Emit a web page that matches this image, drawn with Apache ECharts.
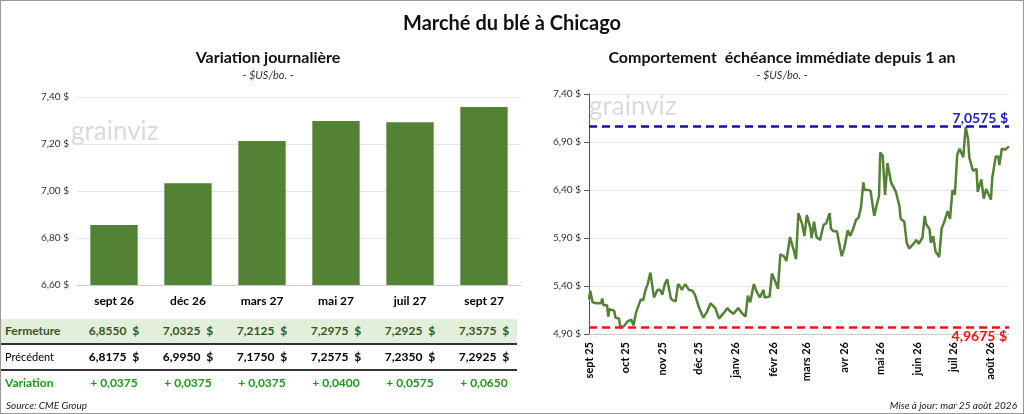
<!DOCTYPE html>
<html>
<head>
<meta charset="utf-8">
<script src="https://cdn.jsdelivr.net/npm/echarts@6/dist/echarts.min.js"></script>
<style>
body{margin:0;background:#fff;font-family:Lato,sans-serif;}
#wrap{position:relative;width:1022px;height:412px;border:1px solid #999;}
#main{position:absolute;left:0;top:0;width:1022px;height:412px;}
#tbl{position:absolute;left:0;top:318px;width:516px;font-size:12px;}
.row{position:relative;height:24px;line-height:24px;}
.row span{position:absolute;font-weight:bold;}
.row .lab{left:4px;}
.foot{position:absolute;bottom:2px;font-style:italic;font-size:10px;color:#222;}
</style>
</head>
<body>
<div id="wrap">
<div id="main"></div>
<div id="tbl"></div>
<div class="foot" style="left:5px">Source: CME Group</div>
<div class="foot" style="right:6px">Mise à jour: mar 25 août 2026</div>
</div>
<script>
let contracts=["sept 26","déc 26","mars 27","mai 27","juil 27","sept 27"];
let closes=[6.8550,7.0325,7.2125,7.2975,7.2925,7.3575];
let previous=[6.8175,6.9950,7.1750,7.2575,7.2350,7.2925];
let monthStarts=[0,30,61,91,122,153,181,212,242,273,303,334];
let monthNames=["sept 25","oct 25","nov 25","déc 25","janv 26","févr 26","mars 26","avr 26","mai 26","juin 26","juil 26","août 26"];
let days=[0,1,3,6,10,11,12,15,16,17,21,22,25,26,29,32,35,37,39,41,43,45,47,49,51,54,57,59,61,63,65,68,70,72,74,76,77,80,83,86,88,91,95,98,101,105,108,112,115,117,120,124,127,130,132,134,137,139,142,145,146,150,152,155,157,159,162,164,167,170,172,174,177,179,181,184,185,187,189,192,195,197,200,201,203,206,210,212,215,217,219,222,224,226,228,229,232,234,237,239,241,242,244,246,248,251,255,258,259,262,264,266,269,272,274,277,279,280,283,284,286,288,291,293,295,298,300,302,304,306,308,311,313,315,316,319,322,323,326,328,330,334,335,338,340,341,343,346,349];
let prices=[5.26,5.35,5.23,5.22,5.22,5.27,5.20,5.20,5.08,5.16,5.14,5.07,5.06,4.97,4.98,5.03,5.05,4.99,5.12,5.19,5.26,5.25,5.36,5.43,5.54,5.28,5.36,5.36,5.31,5.42,5.47,5.27,5.25,5.24,5.42,5.39,5.36,5.42,5.36,5.35,5.31,5.19,5.07,5.13,5.22,5.17,5.06,5.12,5.17,5.14,5.11,5.17,5.12,5.08,5.30,5.23,5.42,5.35,5.28,5.36,5.28,5.29,5.53,5.44,5.37,5.73,5.71,5.66,5.91,5.78,5.68,6.16,6.05,5.92,6.14,6.00,5.90,6.07,5.91,5.88,6.04,6.05,6.16,6.00,5.97,5.97,5.71,5.79,5.98,5.92,5.98,6.09,6.11,6.22,6.48,6.40,6.40,6.39,6.13,6.24,6.34,6.79,6.76,6.35,6.68,6.48,6.38,6.23,6.10,6.07,5.85,5.79,5.83,5.88,5.84,5.90,6.13,6.05,5.99,5.85,5.92,5.76,5.70,6.00,6.06,6.18,6.10,6.40,6.35,6.77,6.83,6.74,7.0575,6.93,6.74,6.60,6.62,6.38,6.51,6.31,6.41,6.30,6.52,6.75,6.75,6.66,6.83,6.82,6.855];
let yearHigh=7.0575, yearLow=4.9675;

const green="#548235";
const fr=(v,d)=>v.toFixed(d).replace(".",",");

// table
let cx=[113,187,261,335,409,483];
function row(label,vals,style,bg){
	let h=`<div class="row" style="${bg}">`;
	h+=`<span class="lab" style="${style}">${label}</span>`;
	vals.forEach((v,i)=>{h+=`<span style="left:${cx[i]-32}px;width:64px;text-align:center;${style}">${v}</span>`;});
	return h+"</div>";
}
let t="";
t+=row("Fermeture",closes.map(v=>fr(v,4)+"&nbsp;&nbsp;$"),"color:#375623;","background:#E2EFDA;border-bottom:2px solid #333;");
t+=row("Précédent",previous.map(v=>fr(v,4)+"&nbsp;&nbsp;$"),"color:#000;","border-bottom:2px solid #333;");
t+=row("Variation",closes.map((v,i)=>"+ "+fr(v-previous[i],4)),"color:#1a9a1a;","");
document.getElementById("tbl").innerHTML=t;
document.querySelectorAll(".row .lab")[1].style.fontWeight="normal";
document.querySelectorAll(".row .lab")[1].style.fontSize="11px";

let chart=echarts.init(document.getElementById("main"));
let series=[];
chart.setOption({
	animation:false,
	textStyle:{fontFamily:"Lato"},
	title:[
		{text:"Marché du blé à Chicago",left:"center",top:8,textStyle:{fontSize:20,fontWeight:"bold",color:"#111"}},
		{text:"Variation journalière",subtext:"- $US/bo. -",left:262,textAlign:"center",top:44,itemGap:4,
			textStyle:{fontSize:16,fontWeight:"bold",color:"#111"},subtextStyle:{fontSize:11,fontStyle:"italic",color:"#333"}},
		{text:"Comportement  échéance immédiate depuis 1 an",subtext:"- $US/bo. -",left:776,textAlign:"center",top:44,itemGap:4,
			textStyle:{fontSize:16,fontWeight:"bold",color:"#111"},subtextStyle:{fontSize:11,fontStyle:"italic",color:"#333"}}
	],
	graphic:[
		{type:"text",left:70,top:118,style:{text:"grainviz",fontSize:26,fill:"rgba(150,150,150,0.35)",fontFamily:"Lato"}},
		{type:"text",left:588,top:93,style:{text:"grainviz",fontSize:26,fill:"rgba(150,150,150,0.35)",fontFamily:"Lato"}}
	],
	grid:[
		{left:76,right:1024-522,top:96,bottom:414-286},
		{left:588,right:14,top:93,bottom:414-335}
	],
	xAxis:[
		{gridIndex:0,type:"category",data:contracts,axisTick:{show:false},axisLine:{lineStyle:{color:"#ccc"}},
			axisLabel:{fontWeight:"bold",fontSize:12,color:"#000",margin:10}},
		{gridIndex:1,type:"value",min:0,max:349,splitLine:{show:false},axisLine:{show:true,lineStyle:{color:"#ccc"}},
			axisTick:{show:false},
			axisLabel:{customValues:monthStarts,rotate:90,fontWeight:"bold",fontSize:11,color:"#000",
				formatter:v=>monthNames[monthStarts.indexOf(v)]}}
	],
	yAxis:[
		{gridIndex:0,type:"value",min:6.6,max:7.4,interval:0.2,splitLine:{lineStyle:{color:"#e6e6e6"}},
			axisLabel:{fontSize:10,color:"#333",formatter:v=>fr(v,2)+" $"}},
		{gridIndex:1,type:"value",min:4.9,max:7.4,interval:0.5,splitLine:{lineStyle:{color:"#e6e6e6"}},
			axisLabel:{fontSize:10,color:"#333",formatter:v=>fr(v,2)+" $"}}
	],
	series:[
		{type:"bar",xAxisIndex:0,yAxisIndex:0,data:closes,barWidth:"64%",itemStyle:{color:green}},
		{type:"line",xAxisIndex:1,yAxisIndex:1,data:days.map((d,i)=>[d,prices[i]]),showSymbol:false,
			lineStyle:{color:green,width:2.5},
			markLine:{symbol:"none",silent:true,
				data:[
					{yAxis:yearHigh,lineStyle:{color:"#1010b0",type:[8,5],width:2.5},
						label:{position:"insideEndTop",formatter:fr(yearHigh,4)+" $",color:"#2020c0",fontSize:14,fontWeight:"bold",distance:1}},
					{yAxis:yearLow,lineStyle:{color:"#ff1010",type:[8,5],width:2.5},
						label:{position:"insideEndBottom",formatter:fr(yearLow,4)+" $",color:"#ff1010",fontSize:14,fontWeight:"bold",distance:2}}
				]},
			markPoint:{symbol:"none",data:[{coord:[349,prices[prices.length-1]],
				label:{show:true,formatter:fr(prices[prices.length-1],4)+" $",color:"#000",fontSize:14,fontWeight:"bold",offset:[-35,-60]}}]}
		}
	]
});
</script>
</body>
</html>
